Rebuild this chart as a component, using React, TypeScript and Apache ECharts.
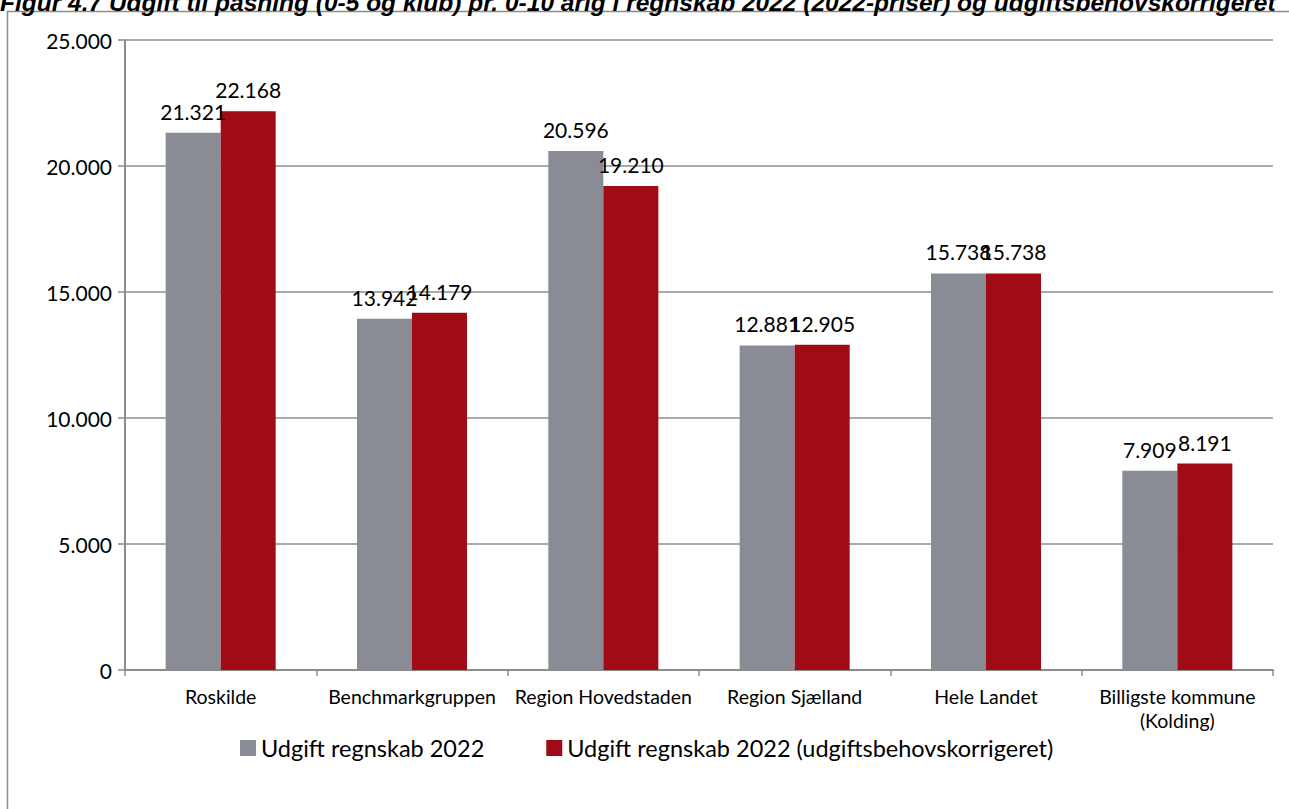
import React, { useEffect, useRef } from "react";
import * as echarts from "echarts";

const categories = [
  "Roskilde",
  "Benchmarkgruppen",
  "Region Hovedstaden",
  "Region Sjælland",
  "Hele Landet",
  "Billigste kommune\n(Kolding)",
];
const seriesNames = [
  "Udgift regnskab 2022",
  "Udgift regnskab 2022 (udgiftsbehovskorrigeret)",
];
const udgift = [21321, 13942, 20596, 12881, 15738, 7909];
const udgiftKorr = [22168, 14179, 19210, 12905, 15738, 8191];
const yTicks = { min: 0, max: 25000, interval: 5000 };
const titleText =
  "Figur 4.7 Udgift til pasning (0-5 og klub) pr. 0-10 årig i regnskab 2022 (2022-priser) og udgiftsbehovskorrigeret";

const fmt = (v: number) =>
  String(Math.round(v)).replace(/\B(?=(\d{3})+(?!\d))/g, ".");

const FONT = "Lato, 'Open Sans', sans-serif";

export default function App() {
  const ref = useRef<HTMLDivElement>(null);
  useEffect(() => {
    if (!ref.current) return;
    const chart = echarts.init(ref.current, null, { renderer: "svg" });
    const labelCfg = {
      show: true,
      position: "top",
      distance: 11,
      color: "#000",
      fontSize: 21,
      fontFamily: FONT,
      formatter: (p: any) => fmt(p.value),
    };
    chart.setOption({
      animation: false,
      backgroundColor: "#ffffff",
      textStyle: { fontFamily: FONT },
      graphic: [
        {
          type: "rect",
          shape: { x: 7.5, y: 11.5, width: 1300, height: 820 },
          style: { fill: "none", stroke: "#8c8c8c", lineWidth: 1.5 },
          silent: true,
        },
        {
          type: "text",
          x: 0,
          y: 15,
          style: {
            text: titleText,
            font: "italic bold 24.5px 'Liberation Sans', Arial, sans-serif",
            fill: "#000",
            verticalAlign: "bottom",
            align: "left",
          },
          silent: true,
        },
      ],
      grid: { left: 125, right: 16, top: 40, bottom: 139, containLabel: false },
      legend: {
        left: 235,
        top: 731,
        itemWidth: 16,
        itemHeight: 16,
        itemGap: 62,
        icon: "rect",
        textStyle: { fontSize: 23.5, color: "#000", fontFamily: FONT },
        data: seriesNames,
      },
      xAxis: {
        type: "category",
        data: categories,
        axisLine: { show: true, lineStyle: { color: "#8c8c8c", width: 2 } },
        axisTick: { show: true, length: 6, alignWithLabel: false, lineStyle: { color: "#8c8c8c", width: 1.5 } },
        axisLabel: {
          color: "#000",
          fontSize: 19.5,
          fontFamily: FONT,
          margin: 14,
          lineHeight: 24,
          interval: 0,
        },
        splitLine: { show: false },
      },
      yAxis: {
        type: "value",
        min: yTicks.min,
        max: yTicks.max,
        interval: yTicks.interval,
        axisLine: { show: true, lineStyle: { color: "#8c8c8c", width: 2 } },
        axisTick: { show: true, length: 7, lineStyle: { color: "#8c8c8c", width: 1.5 } },
        axisLabel: {
          color: "#000",
          fontSize: 21,
          fontFamily: FONT,
          margin: 13,
          formatter: (v: number) => fmt(v),
        },
        splitLine: { show: true, lineStyle: { color: "#8e8e8e", width: 1.5 } },
      },
      series: [
        {
          name: seriesNames[0],
          type: "bar",
          data: udgift,
          barGap: "0%",
          barCategoryGap: "42.5%",
          itemStyle: { color: "#898c95" },
          label: labelCfg,
        },
        {
          name: seriesNames[1],
          type: "bar",
          data: udgiftKorr,
          barGap: "0%",
          barCategoryGap: "42.5%",
          itemStyle: { color: "#a10b16" },
          label: labelCfg,
        },
      ],
    });
    return () => chart.dispose();
  }, []);
  return (
    <div
      ref={ref}
      style={{ position: "fixed", left: 0, top: 0, width: 1289, height: 809 }}
    />
  );
}
